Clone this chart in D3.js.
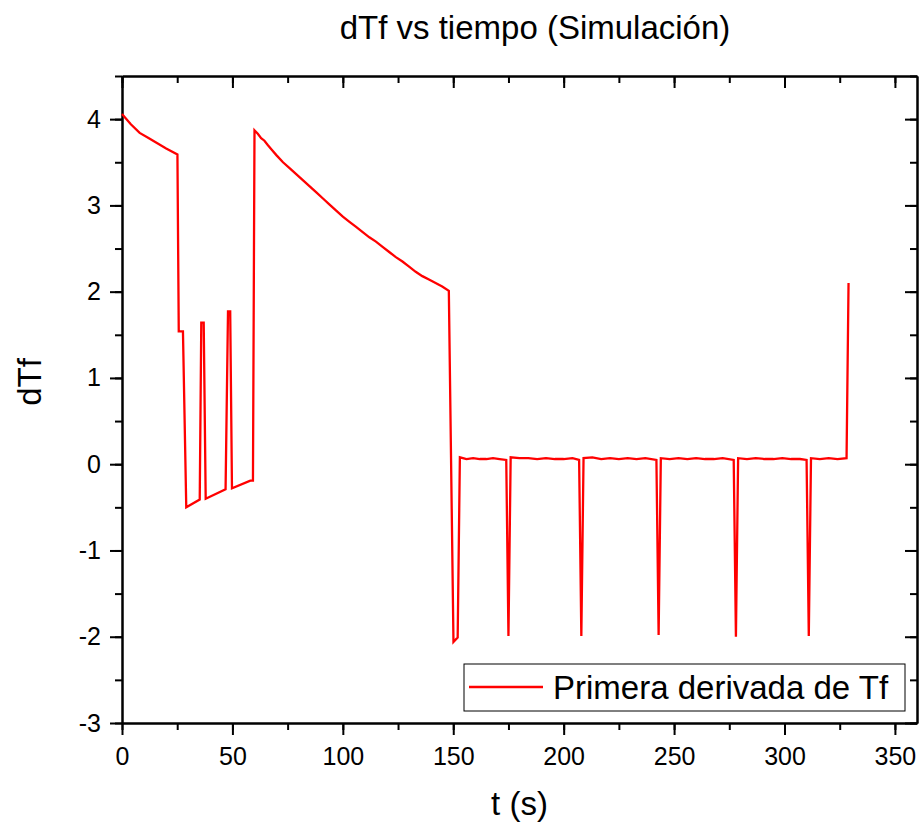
<!DOCTYPE html>
<html>
<head>
<meta charset="utf-8">
<script src="https://cdn.jsdelivr.net/npm/d3@7"></script>
<style>
  body { margin: 0; background: #fff; }
  svg { display: block; font-family: "Liberation Sans", Arial, sans-serif; }
</style>
</head>
<body>
<div id="chart"></div>
<script>
// === Data ===
const tValues = [
    0, 4, 8, 12, 16, 20, 25.1, 25.7, 27.6, 29.1, 35.2, 35.9, 37.0, 37.9, 46.9, 48.0, 49.0, 49.8, 58.1, 59.3,
    60, 61.5, 63, 64.5, 66, 68, 70, 72.9, 76, 79, 82, 85, 88, 91, 94, 97, 100, 103, 106, 109, 112, 115, 118,
    121, 124, 127, 130, 133, 136, 139, 142, 145, 148,
    150.1, 152, 153, 156, 159, 162, 165, 168, 171, 174,
    175, 176, 180, 184, 188, 192, 196, 200, 204, 207,
    208, 209, 213, 217, 221, 225, 229, 233, 237, 242,
    243, 244, 248, 252, 256, 260, 264, 268, 272, 277,
    278, 279, 283, 287, 291, 295, 299, 303, 307, 310,
    311, 312, 316, 320, 324, 328.1, 329
];
const dTfValues = [
    4.06, 3.94, 3.84, 3.78, 3.72, 3.66, 3.59, 1.54, 1.54, -0.50, -0.41, 1.64, 1.64, -0.40, -0.29, 1.77, 1.77, -0.28, -0.19, -0.19,
    3.87, 3.83, 3.78, 3.75, 3.70, 3.64, 3.58, 3.50, 3.43, 3.36, 3.29, 3.22, 3.15, 3.08, 3.01, 2.94, 2.87, 2.81, 2.75, 2.69, 2.63, 2.58, 2.52,
    2.46, 2.40, 2.35, 2.29, 2.23, 2.18, 2.14, 2.10, 2.06, 2.01,
    -2.06, -2.01, 0.08, 0.06, 0.07, 0.06, 0.06, 0.07, 0.06, 0.05,
    -1.99, 0.08, 0.07, 0.07, 0.06, 0.07, 0.06, 0.06, 0.07, 0.05,
    -1.99, 0.07, 0.08, 0.06, 0.07, 0.06, 0.07, 0.06, 0.07, 0.05,
    -1.98, 0.07, 0.06, 0.07, 0.06, 0.07, 0.06, 0.06, 0.07, 0.05,
    -2.00, 0.07, 0.06, 0.07, 0.06, 0.06, 0.07, 0.06, 0.06, 0.05,
    -1.99, 0.07, 0.06, 0.07, 0.06, 0.07, 2.10
];
const xTicks = [0, 50, 100, 150, 200, 250, 300, 350];
const yTicks = [-3, -2, -1, 0, 1, 2, 3, 4];
const xMinorTicks = d3.range(0, 360, 25);
const yMinorTicks = d3.range(-3, 4.51, 0.5);

const LINE_COLOR = "#ff0000";
const FONT_TICK = "25px";

// === Layout ===
const svgWidth = 922, svgHeight = 824;
const margin = { top: 76, right: 5, bottom: 101, left: 122 };
const width = svgWidth - margin.left - margin.right;
const height = svgHeight - margin.top - margin.bottom;

const svg = d3.select("#chart").append("svg")
    .attr("width", svgWidth)
    .attr("height", svgHeight);

const g = svg.append("g")
    .attr("transform", `translate(${margin.left},${margin.top})`);

const x = d3.scaleLinear().domain([0, 360]).range([0, width]);
const y = d3.scaleLinear().domain([-3, 4.5]).range([height, 0]);

const data = tValues.map((t, i) => ({ t: t, v: dTfValues[i] }));

// Minor ticks first (no labels)
function minor(axis, ticks, size) {
    return axis.tickValues(ticks).tickSize(size).tickSizeOuter(0).tickFormat("");
}
g.append("g").attr("class", "minor").attr("transform", `translate(0,${height})`)
    .call(minor(d3.axisBottom(x), xMinorTicks, 7));
g.append("g").attr("class", "minor")
    .call(minor(d3.axisTop(x), xMinorTicks, -7));
g.append("g").attr("class", "minor")
    .call(minor(d3.axisLeft(y), yMinorTicks, 7));
g.append("g").attr("class", "minor").attr("transform", `translate(${width},0)`)
    .call(minor(d3.axisRight(y), yMinorTicks, -7));

// Major ticks and labels
const fmt = d => String(d);
g.append("g").attr("class", "axis").attr("transform", `translate(0,${height})`)
    .call(d3.axisBottom(x).tickValues(xTicks).tickSize(12).tickSizeOuter(0).tickPadding(12).tickFormat(fmt));
g.append("g").attr("class", "axis")
    .call(d3.axisTop(x).tickValues(xTicks).tickSize(-12).tickSizeOuter(0).tickFormat(""));
g.append("g").attr("class", "axis")
    .call(d3.axisLeft(y).tickValues(yTicks).tickSize(12).tickSizeOuter(0).tickPadding(9).tickFormat(fmt));
g.append("g").attr("class", "axis").attr("transform", `translate(${width},0)`)
    .call(d3.axisRight(y).tickValues(yTicks).tickSize(-12).tickSizeOuter(0).tickFormat(""));

g.selectAll(".axis path, .minor path, .axis line, .minor line")
    .attr("stroke", "#000")
    .attr("stroke-width", 2);
g.selectAll(".axis text")
    .attr("fill", "#000")
    .style("font-size", FONT_TICK)
    .style("font-family", "'Liberation Sans', Arial, sans-serif");

// Data line
const line = d3.line().x(d => x(d.t)).y(d => y(d.v));
g.append("path")
    .datum(data)
    .attr("fill", "none")
    .attr("stroke", LINE_COLOR)
    .attr("stroke-width", 2.3)
    .attr("stroke-linejoin", "miter")
    .attr("d", line);

// Legend
const legend = svg.append("g").attr("transform", "translate(464,664)");
legend.append("rect")
    .attr("width", 441).attr("height", 47)
    .attr("fill", "#fff").attr("stroke", "#000").attr("stroke-width", 1);
legend.append("line")
    .attr("x1", 5).attr("x2", 79).attr("y1", 23).attr("y2", 23)
    .attr("stroke", LINE_COLOR).attr("stroke-width", 2.3);
legend.append("text")
    .attr("x", 89).attr("y", 35)
    .style("font-size", "33px")
    .text("Primera derivada de Tf");

// Titles
svg.append("text")
    .attr("x", 535).attr("y", 39)
    .attr("text-anchor", "middle")
    .style("font-size", "33px")
    .text("dTf vs tiempo (Simulación)");

svg.append("text")
    .attr("x", margin.left + width / 2).attr("y", 815)
    .attr("text-anchor", "middle")
    .style("font-size", "33px")
    .text("t (s)");

svg.append("text")
    .attr("transform", "translate(41,382) rotate(-90)")
    .attr("text-anchor", "middle")
    .style("font-size", "33px")
    .text("dTf");
</script>
</body>
</html>
